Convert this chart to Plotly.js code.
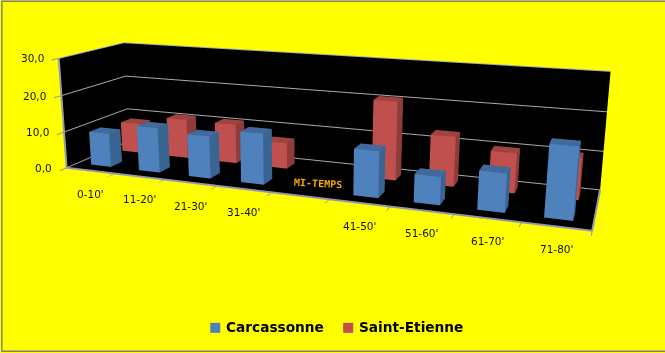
<!DOCTYPE html>
<html><head><meta charset="utf-8">
<script src="https://cdn.plot.ly/plotly-3.0.1.min.js"></script>
<style>html,body{margin:0;padding:0;background:#ff0;overflow:hidden;width:665px;height:353px}#g{position:absolute}</style>
</head><body><div id="g"></div>
<script>
var categories=["0-10'","11-20'","21-30'","31-40'","","41-50'","51-60'","61-70'","71-80'"];
var carcassonne=[9.3,12.2,11.3,13.4,null,11.8,7,9.5,17.3];
var saintEtienne=[8.5,11,10.9,7.1,null,20.8,13,10.2,10.5];
var zTicks=[0,10,20,30];
var seriesNames=['Carcassonne','Saint-Etienne'];
var xMax=categories.length,yMax=seriesNames.length,zMax=zTicks[zTicks.length-1];
var ay=.687,az=.659,H=722,px=307.287,py=141.168,W=2*Math.max(px,665-px)+4,L=px-W/2,TOP=py-H/2;
var g=document.getElementById('g');g.style.left=L+'px';g.style.top=TOP+'px';
function bars(vals,yc,name,cf,cs,ct){var x=[],y=[],z=[],I=[],J=[],K=[],fc=[];
 vals.forEach(function(v,c){if(v==null)return;var b=x.length,x0=c+.29,x1=c+.71,y0=yc-.175,y1=yc+.175;
  [[x0,y0,0],[x1,y0,0],[x1,y1,0],[x0,y1,0],[x0,y0,v],[x1,y0,v],[x1,y1,v],[x0,y1,v]].forEach(function(q){x.push(q[0]);y.push(q[1]);z.push(q[2])});
  [[0,1,5,cf],[0,5,4,cf],[1,2,6,cs],[1,6,5,cs],[4,5,6,ct],[4,6,7,ct],[3,2,6,cf],[3,6,7,cf],[0,3,7,cs],[0,7,4,cs],[0,1,2,cs],[0,2,3,cs]].forEach(function(q){I.push(b+q[0]);J.push(b+q[1]);K.push(b+q[2]);fc.push(q[3])});});
 return{type:'mesh3d',name:name,x:x,y:y,z:z,i:I,j:J,k:K,facecolor:fc,flatshading:true,hoverinfo:'skip',lighting:{ambient:1,diffuse:0,specular:0,roughness:1,fresnel:0}};}
var frame={type:'scatter3d',mode:'lines',hoverinfo:'skip',showlegend:false,line:{color:'#a0a0b4',width:4},
 x:[0,0,xMax,xMax],y:[0,0,0,yMax],z:[zMax,0,0,0]};
var data=[bars(carcassonne,.5,seriesNames[0],'#4f81bd','#3a6491','#41699b'),bars(saintEtienne,1.5,seriesNames[1],'#c0504d','#8e3b39','#a04340'),frame];
function ax(o){return Object.assign({showspikes:false,showticklabels:false,showbackground:true,backgroundcolor:'#000',showgrid:false,zeroline:false,showline:true,linecolor:'#9090a0',linewidth:2,title:{text:''}},o)}
var ann=[];
categories.forEach(function(c,i){if(c)ann.push({x:i+.5,y:0,z:0,text:c,showarrow:false,yshift:-23,font:{family:'DejaVu Sans',size:10.5,color:'#111'}})});
zTicks.forEach(function(v){ann.push({x:0,y:0,z:v,text:v.toFixed(1).replace('.',','),showarrow:false,xanchor:'right',xshift:-13,font:{family:'DejaVu Sans',size:10.5,color:'#111'}})});
ann.push({x:4.5,y:.45,z:0,text:'<b>MI-TEMPS</b>',showarrow:false,textangle:3,xshift:8,yshift:4.5,font:{family:'DejaVu Sans Mono',size:10,color:'#f5a800'}});
function pX(s){return(s-L)/W}function pY(s){return 1-(s-TOP)/H}
function key(x0,col,name,tx){return{sh:{type:'rect',xref:'paper',yref:'paper',x0:pX(x0),x1:pX(x0+10),y0:pY(333),y1:pY(323),fillcolor:col,line:{width:0},layer:'above'},
 an:{xref:'paper',yref:'paper',x:pX(tx),y:pY(327.5),xanchor:'left',yanchor:'middle',showarrow:false,text:'<b>'+name+'</b>',font:{family:'DejaVu Sans',size:13.7,color:'#000'}}}}
var k1=key(210,'#4f81bd',seriesNames[0],224),k2=key(343,'#c0504d',seriesNames[1],357);
var border={type:'rect',xref:'paper',yref:'paper',x0:pX(1.5),x1:pX(680),y0:pY(351.5),y1:pY(1.5),line:{color:'#808080',width:1.5},fillcolor:'rgba(0,0,0,0)',layer:'above'};
Plotly.newPlot(g,data,{width:W,height:H,margin:{l:0,r:0,t:0,b:0},paper_bgcolor:'#ff0',showlegend:false,shapes:[k1.sh,k2.sh,border],annotations:[k1.an,k2.an],
 scene:{domain:{x:[0,1],y:[0,1]},aspectmode:'manual',aspectratio:{x:3,y:ay,z:az},camera:{projection:{type:'perspective'},eye:{x:1.636,y:-4.497,z:1.130},center:{x:-.088,y:-.005,z:-.115},up:{x:.001,y:0,z:1}},
 xaxis:ax({range:[0,xMax],tickvals:categories.map(function(c,i){return i}).concat([xMax]),ticks:'outside',tickcolor:'#9090a0',tickwidth:2,ticklen:5}),yaxis:ax({range:[0,yMax],tickvals:[0,1,2]}),zaxis:ax({range:[0,zMax],tickvals:zTicks,showgrid:true,gridcolor:'#a8a8b0',gridwidth:2,ticks:'outside',tickcolor:'#9090a0',tickwidth:2,ticklen:5}),annotations:ann}},{displayModeBar:false});
</script></body></html>
